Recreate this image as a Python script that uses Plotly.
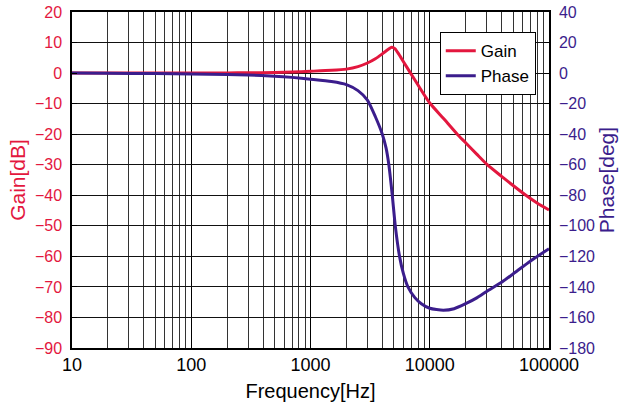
import plotly.graph_objects as go

freq_gain = [10, 20, 50, 100, 200, 300, 500, 700, 1000, 1500, 2000, 2500, 3000, 3500, 4000,
             4500, 4800, 5100, 5500, 6000, 6900, 8000, 10000, 13000, 17000, 20000, 25000, 30000,
             40000, 50000, 64000, 80000, 100000]
gain_db = [0, 0, 0, 0, 0.05, 0.1, 0.2, 0.35, 0.6, 0.9, 1.3, 2.1, 3.3, 4.7, 6.3,
           7.8, 8.5, 8.0, 6.2, 3.8, 0.0, -4.0, -9.8, -14.8, -20.0, -22.8, -26.7, -29.8,
           -33.8, -36.8, -40.0, -42.6, -44.8]

freq_phase = [10, 20, 50, 100, 200, 300, 500, 700, 1000, 1500, 2000, 2500, 3000, 3500,
              4000, 4300, 4540, 4850, 5140, 5580, 6000, 6560, 7500, 8500, 10000, 13000, 16000,
              20000, 25000, 30000, 40000, 50000, 70000, 100000]
phase_deg = [0, -0.1, -0.3, -0.6, -1.0, -1.3, -2.0, -2.8, -4.0, -5.5, -7.5, -11.5, -17.7, -28.6,
             -40, -49, -60, -80, -100, -120, -131, -140, -147, -151, -154, -155.3, -154.3,
             -151, -147, -143, -137, -131.5, -123, -115]

RED = "#e3173e"
PURPLE = "#3b1d8c"
FONT = "Liberation Sans, Arial, sans-serif"

fig = go.Figure()
fig.add_trace(go.Scatter(x=freq_gain, y=gain_db, name="Gain", mode="lines",
                         line=dict(color=RED, width=3, shape="spline", smoothing=0.6)))
fig.add_trace(go.Scatter(x=freq_phase, y=phase_deg, name="Phase", mode="lines", yaxis="y2",
                         line=dict(color=PURPLE, width=3, shape="spline", smoothing=0.6)))

fig.update_layout(
    width=622, height=409,
    margin=dict(l=72, r=72.5, t=12, b=61, autoexpand=False),
    paper_bgcolor="white", plot_bgcolor="white",
    font=dict(family=FONT, size=15, color="black"),
    xaxis=dict(type="log", range=[1, 5], dtick=1, tickformat="d", automargin=False,
               ticklabeloverflow="allow",
               showgrid=True, gridcolor="#000", gridwidth=1.3,
               minor=dict(showgrid=True, gridcolor="#333", gridwidth=1.3, ticks=""),
               showline=True, linecolor="black", linewidth=1.5, mirror=True,
               ticks="", tickfont=dict(size=18, color="black"),
               title=dict(text="Frequency[Hz]", font=dict(size=20, color="black"), standoff=10),
               zeroline=False),
    yaxis=dict(range=[-90, 20], dtick=10, showgrid=True, gridcolor="#111", gridwidth=1.3,
               automargin=False, ticklabeloverflow="allow",
               showline=True, linecolor="black", linewidth=1.5, zeroline=False,
               ticks="inside", ticklen=5, tickcolor="black", ticklabelstandoff=5,
               tickfont=dict(size=16, color=RED),
               title=dict(text="Gain[dB]", font=dict(size=21, color=RED), standoff=4)),
    yaxis2=dict(range=[-180, 40], dtick=20, overlaying="y", side="right", automargin=False,
                ticklabeloverflow="allow",
                showgrid=False, showline=True, linecolor="black", linewidth=1.5, zeroline=False,
                ticks="inside", ticklen=5, tickcolor="black", ticklabelstandoff=5,
                tickfont=dict(size=16, color=PURPLE),
                title=dict(text="Phase[deg]", font=dict(size=21, color=PURPLE), standoff=4)),
    legend=dict(x=0.771, y=0.94, xanchor="left", yanchor="top",
                bgcolor="white", bordercolor="black", borderwidth=1,
                font=dict(size=17, color="black"), itemwidth=30, tracegroupgap=4),
    showlegend=True,
)

fig.write_html("out.html",
               config={"displayModeBar": False},
               post_script="document.body.style.margin='0';document.body.style.padding='0';")
